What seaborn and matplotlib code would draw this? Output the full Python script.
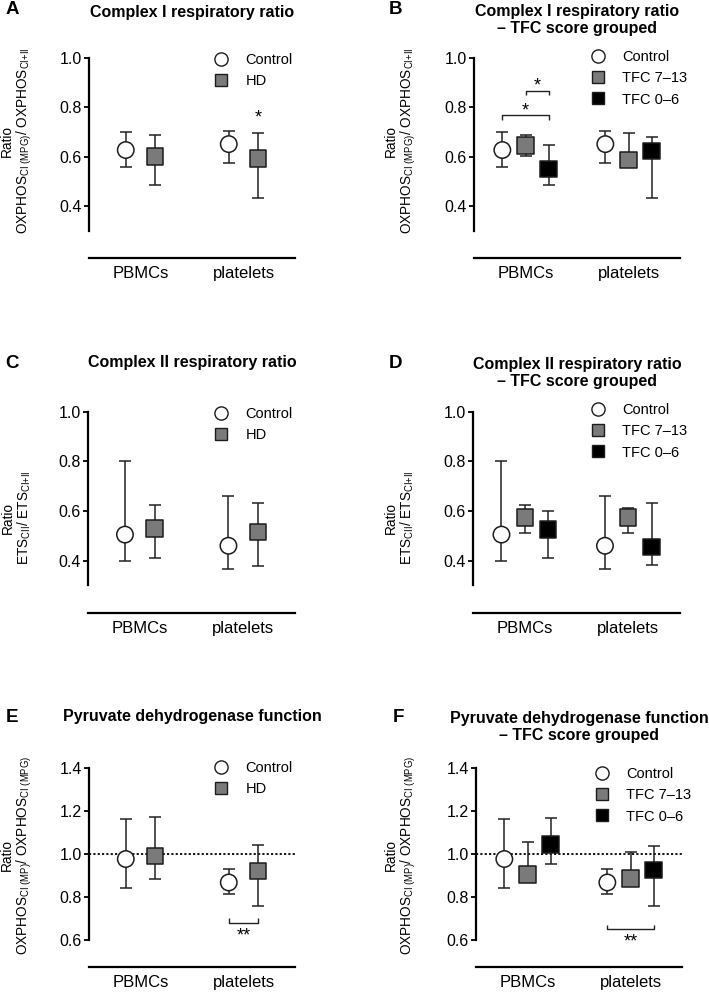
import numpy as np
import pandas as pd
import matplotlib
matplotlib.use("Agg")
import matplotlib.pyplot as plt
from matplotlib.lines import Line2D
import seaborn as sns

# ---------------- data ----------------
cells = ["PBMCs", "platelets"]
groups2 = ["Control", "HD"]
groups3 = ["Control", "TFC 7\u201313", "TFC 0\u20136"]

# [cell][group]
a_mid = [[0.627, 0.600], [0.651, 0.593]]
a_lo = [[0.559, 0.485], [0.573, 0.434]]
a_hi = [[0.700, 0.688], [0.703, 0.696]]

b_mid = [[0.627, 0.646, 0.549], [0.651, 0.586, 0.624]]
b_lo = [[0.559, 0.601, 0.485], [0.573, 0.575, 0.434]]
b_hi = [[0.700, 0.689, 0.649], [0.703, 0.696, 0.680]]

c_mid = [[0.505, 0.529], [0.460, 0.515]]
c_lo = [[0.400, 0.411], [0.368, 0.380]]
c_hi = [[0.800, 0.624], [0.659, 0.631]]

d_mid = [[0.505, 0.573, 0.526], [0.460, 0.573, 0.454]]
d_lo = [[0.400, 0.511, 0.412], [0.368, 0.511, 0.381]]
d_hi = [[0.800, 0.625, 0.599], [0.659, 0.613, 0.631]]

e_mid = [[0.976, 0.990], [0.867, 0.920]]
e_lo = [[0.840, 0.881], [0.815, 0.758]]
e_hi = [[1.163, 1.171], [0.929, 1.039]]

f_mid = [[0.976, 0.905, 1.044], [0.867, 0.886, 0.925]]
f_lo = [[0.840, 0.885, 0.953], [0.815, 0.870, 0.758]]
f_hi = [[1.163, 1.055, 1.168], [0.929, 1.010, 1.038]]

titles = {
    "A": "Complex I respiratory ratio",
    "B": "Complex I respiratory ratio\n\u2013 TFC score grouped",
    "C": "Complex II respiratory ratio",
    "D": "Complex II respiratory ratio\n\u2013 TFC score grouped",
    "E": "Pyruvate dehydrogenase function",
    "F": "Pyruvate dehydrogenase function\n\u2013 TFC score grouped",
}
ylab_cI = "Ratio\nOXPHOS$_{\\mathrm{CI\\ (MPG)}}$/ OXPHOS$_{\\mathrm{CI{+}II}}$"
ylab_cII = "Ratio\nETS$_{\\mathrm{CII}}$/ ETS$_{\\mathrm{CI{+}II}}$"
ylab_pdh = "Ratio\nOXPHOS$_{\\mathrm{CI\\ (MP)}}$/ OXPHOS$_{\\mathrm{CI\\ (MPG)}}$"

# ---------------- style ----------------
sns.set_theme(style="ticks")
plt.rcParams["font.family"] = ["Liberation Sans", "DejaVu Sans"]
plt.rcParams["mathtext.fontset"] = "custom"
plt.rcParams["mathtext.rm"] = "Liberation Sans"
plt.rcParams["mathtext.it"] = "Liberation Sans:italic"
plt.rcParams["mathtext.bf"] = "Liberation Sans:bold"
plt.rcParams["text.color"] = "black"
plt.rcParams["axes.edgecolor"] = "black"
plt.rcParams["xtick.color"] = "black"
plt.rcParams["ytick.color"] = "black"

W, H = 709, 993
fig = plt.figure(figsize=(W / 100, H / 100), dpi=100)

colors = {"Control": "white", "HD": "#7a7a7a", "TFC 7\u201313": "#7a7a7a", "TFC 0\u20136": "black"}
markers = {"Control": "o", "HD": "s", "TFC 7\u201313": "s", "TFC 0\u20136": "s"}
EDGE = "#1c1c1c"


def fx(x):
    return x / W


def fy(y):
    return 1 - y / H


def make_axes(left, right, top, bottom):
    return fig.add_axes([fx(left), fy(bottom), (right - left) / W, (bottom - top) / H])


def draw(ax, groups, mid, lo, hi, offsets, ylim, bounds, yticks):
    rows = []
    for ci, cell in enumerate(cells):
        for gi, g in enumerate(groups):
            rows.append(dict(cell=cell, group=g, x=ci + offsets[gi],
                             mid=mid[ci][gi], lo=lo[ci][gi], hi=hi[ci][gi]))
    df = pd.DataFrame(rows)
    ax.errorbar(df["x"], df["mid"], yerr=[df["mid"] - df["lo"], df["hi"] - df["mid"]],
                fmt="none", ecolor="#222222", elinewidth=1.1, capsize=4.5, capthick=1.1, zorder=2)
    sns.scatterplot(data=df, x="x", y="mid", hue="group", style="group",
                    palette={g: colors[g] for g in groups}, markers={g: markers[g] for g in groups},
                    s=140, edgecolor=EDGE, linewidth=1.1, legend=False, ax=ax, zorder=3)
    ax.set_xlim(-0.5, 1.5)
    ax.set_ylim(*ylim)
    for s in ["top", "right"]:
        ax.spines[s].set_visible(False)
    ax.spines["left"].set_bounds(*bounds)
    ax.spines["left"].set_linewidth(1.6)
    ax.spines["bottom"].set_position(("outward", 19.5))
    ax.spines["bottom"].set_linewidth(1.6)
    ax.set_xticks([0, 1])
    ax.set_xticklabels(cells, fontsize=12)
    ax.tick_params(axis="x", length=0, pad=6)
    ax.set_yticks(yticks)
    ax.set_yticklabels([f"{t:.1f}" for t in yticks], fontsize=11.5)
    ax.tick_params(axis="y", length=3.5, width=1.3, pad=1.5)
    ax.set_xlabel("")
    ax.set_ylabel("")
    ax.patch.set_alpha(0)


def legend(ax, groups, x0, ytop):
    handles = [Line2D([], [], ls="none", marker=markers[g], markersize=9.5 if g == "Control" else 9,
                      markerfacecolor=colors[g], markeredgecolor=EDGE, markeredgewidth=1.0)
               for g in groups]
    ax.legend(handles, groups, loc="upper left", bbox_to_anchor=(fx(x0), fy(ytop)),
              bbox_transform=fig.transFigure, frameon=False, fontsize=10.5,
              handlelength=1.0, handletextpad=1.15, labelspacing=0.5, borderpad=0,
              borderaxespad=0)


def bracket(ax, x1, x2, y, tick, text, ty, fs=13):
    ax.plot([x1, x1, x2, x2], [y + tick, y, y, y + tick], color="#222222", lw=1.0,
            solid_capstyle="butt", clip_on=False)
    ax.text((x1 + x2) / 2, ty, text, ha="center", va="center", fontsize=fs, clip_on=False)


off2 = [-0.143, 0.143]
off3 = [-0.225, 0.0, 0.225]
ticksI = [0.4, 0.6, 0.8, 1.0]
ticksE = [0.6, 0.8, 1.0, 1.2, 1.4]

# Panel A
axA = make_axes(89, 295, 50.6, 230.7)
draw(axA, groups2, a_mid, a_lo, a_hi, off2, (0.3, 1.03), (0.3, 1.0), ticksI)
legend(axA, groups2, 214, 53)
axA.text(1 + off2[1], 0.755, "*", ha="center", va="center", fontsize=13)

# Panel B
axB = make_axes(474, 680, 50.6, 230.7)
draw(axB, groups3, b_mid, b_lo, b_hi, off3, (0.3, 1.03), (0.3, 1.0), ticksI)
legend(axB, groups3, 591, 50)
bracket(axB, off3[0], off3[2], 0.768, -0.018, "*", 0.785)
bracket(axB, off3[1], off3[2], 0.868, -0.018, "*", 0.885)

# Panel C
axC = make_axes(88, 295, 404.2, 585.5)
draw(axC, groups2, c_mid, c_lo, c_hi, off2, (0.3, 1.03), (0.3, 1.0), ticksI)
legend(axC, groups2, 214, 407)

# Panel D
axD = make_axes(473, 680, 404.2, 585.5)
draw(axD, groups3, d_mid, d_lo, d_hi, off3, (0.3, 1.03), (0.3, 1.0), ticksI)
legend(axD, groups3, 591, 403)

# Panel E
axE = make_axes(89, 295, 761.2, 940)
draw(axE, groups2, e_mid, e_lo, e_hi, off2, (0.6, 1.43), (0.6, 1.4), ticksE)
axE.axhline(1.0, color="black", lw=1.3, ls=(0, (1.2, 1.2)), zorder=1)
legend(axE, groups2, 214, 761)
bracket(axE, 1 + off2[0], 1 + off2[1], 0.68, 0.023, "**", 0.62)

# Panel F
axF = make_axes(476, 682, 761.2, 940)
draw(axF, groups3, f_mid, f_lo, f_hi, off3, (0.6, 1.43), (0.6, 1.4), ticksE)
axF.axhline(1.0, color="black", lw=1.3, ls=(0, (1.2, 1.2)), zorder=1)
legend(axF, groups3, 595, 767)
bracket(axF, 1 + off3[0], 1 + off3[2], 0.649, 0.022, "**", 0.592)

# titles, panel letters, y labels
title_pos = {"A": (192, 12), "B": (577, 20), "C": (192, 363), "D": (577, 373),
             "E": (192, 717), "F": (579, 727)}
letter_pos = {"A": (12, 10), "B": (395, 10), "C": (12, 363), "D": (395, 363),
              "E": (12, 717), "F": (398, 717)}
for k, t in titles.items():
    x, y = title_pos[k]
    fig.text(fx(x), fy(y), t, ha="center", va="center", fontsize=11.5,
             fontweight="bold", linespacing=1.15)
    lx, ly = letter_pos[k]
    fig.text(fx(lx), fy(ly), k, ha="center", va="center", fontsize=13.5, fontweight="bold")

ylab_pos = [(ylab_cI, 17, 141), (ylab_cI, 401, 141), (ylab_cII, 17, 518),
            (ylab_cII, 400, 518), (ylab_pdh, 17, 855), (ylab_pdh, 401, 855)]
for lab, x, y in ylab_pos:
    fig.text(fx(x), fy(y), lab, rotation=90, ha="center", va="center", fontsize=9.8,
             multialignment="center", linespacing=1.05)

fig.savefig("out.png", dpi=100)
